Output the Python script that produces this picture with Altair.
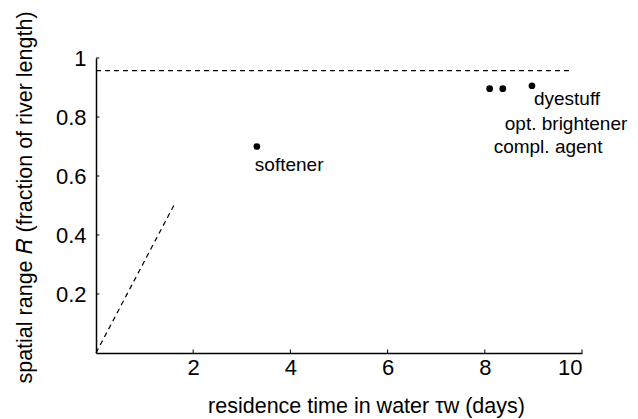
import altair as alt
import pandas as pd

# data
pt_x = [3.31, 8.10, 8.37, 8.97]
pt_y = [0.70, 0.896, 0.896, 0.906]
pt_name = ["softener", "compl. agent", "opt. brightener", "dyestuff"]

upper_x = [0.0, 9.8]
upper_y = [0.957, 0.957]

diag_x = [0.0, 1.6]
diag_y = [0.0, 0.5]

x_ticks = [2, 4, 6, 8, 10]
y_ticks = [0.2, 0.4, 0.6, 0.8, 1.0]

FONT = "Liberation Sans"

pts = pd.DataFrame({"x": pt_x, "y": pt_y, "name": pt_name})
upper = pd.DataFrame({"x": upper_x, "y": upper_y})
diag = pd.DataFrame({"x": diag_x, "y": diag_y})
xt = pd.DataFrame({"x": x_ticks, "y0": [0.0] * len(x_ticks), "y1": [0.012] * len(x_ticks)})
yt = pd.DataFrame({"y": y_ticks, "x0": [0.0] * len(y_ticks), "x1": [0.07] * len(y_ticks)})

xscale = alt.Scale(domain=[0, 10], nice=False, zero=False)
yscale = alt.Scale(domain=[0, 1], nice=False, zero=False)

xaxis = alt.Axis(
    values=x_ticks, format="d", title="residence time in water τw (days)",
    titleX=270, titleY=59, titleBaseline="alphabetic", titleAlign="center",
    labelPadding=4,
)
yaxis = alt.Axis(
    values=y_ticks, format="~g", title="spatial range 𝑅 (fraction of river length)",
    titleX=-71, titleY=139, titleBaseline="middle", titleAlign="center",
    labelPadding=10,
)

base = alt.Chart(pts)

points = base.mark_circle(size=45, color="black", opacity=1).encode(
    x=alt.X("x:Q", scale=xscale, axis=xaxis),
    y=alt.Y("y:Q", scale=yscale, axis=yaxis),
)

def label(name, dx, dy):
    return alt.Chart(pts).transform_filter(alt.datum.name == name).mark_text(
        align="left", baseline="middle", dx=dx, dy=dy, font=FONT, fontSize=19, color="black"
    ).encode(x="x:Q", y="y:Q", text="name:N")

labels = [
    label("softener", -2, 18),
    label("dyestuff", 2, 13),
    label("opt. brightener", 2, 35),
    label("compl. agent", 4, 58),
]

upper_line = alt.Chart(upper).mark_line(color="black", strokeDash=[5, 4], strokeWidth=1.2).encode(
    x="x:Q", y="y:Q"
)
diag_line = alt.Chart(diag).mark_line(color="black", strokeDash=[5, 4], strokeWidth=1.2).encode(
    x="x:Q", y="y:Q"
)

xtick_marks = alt.Chart(xt).mark_rule(color="black", strokeWidth=1).encode(
    x="x:Q", y="y0:Q", y2="y1:Q"
)
ytick_marks = alt.Chart(yt).mark_rule(color="black", strokeWidth=1).encode(
    y="y:Q", x="x0:Q", x2="x1:Q"
)

chart = alt.layer(
    upper_line, diag_line, xtick_marks, ytick_marks, points, *labels
).properties(
    width=486, height=295,
    autosize=alt.AutoSizeParams(type="none"),
    padding={"left": 88, "top": 50, "right": 48, "bottom": 66},
).configure_view(stroke=None).configure_axis(
    grid=False, ticks=False, domainColor="black", domainWidth=1.5,
    labelColor="black", titleColor="black", labelFont=FONT, titleFont=FONT,
    labelFontSize=22, titleFontSize=21.5, titleFontWeight="normal",
)

chart.save("out.html", embed_options={"renderer": "svg", "actions": False})
